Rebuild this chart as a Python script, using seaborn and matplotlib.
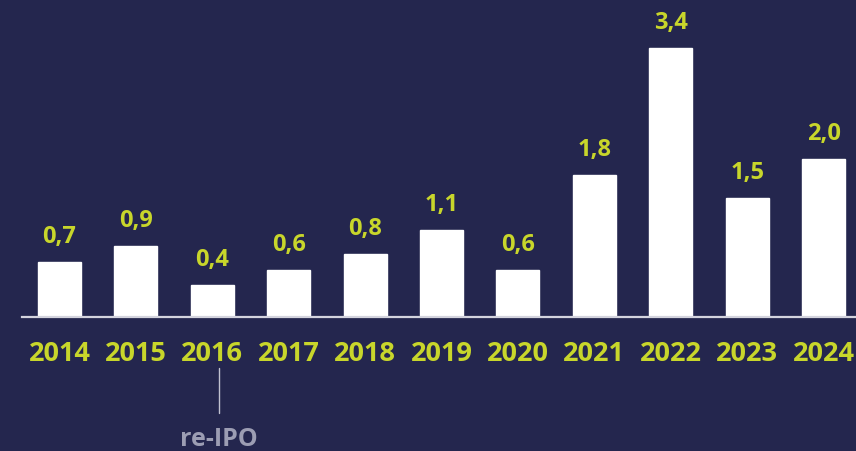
import matplotlib
matplotlib.use("Agg")
import matplotlib.pyplot as plt
import seaborn as sns
import pandas as pd

# data
years = ['2014', '2015', '2016', '2017', '2018', '2019', '2020', '2021', '2022', '2023', '2024']
values = [0.7, 0.9, 0.4, 0.6, 0.8, 1.1, 0.6, 1.8, 3.4, 1.5, 2.0]
labels = ['0,7', '0,9', '0,4', '0,6', '0,8', '1,1', '0,6', '1,8', '3,4', '1,5', '2,0']
note_year = '2016'
note_text = 're-IPO'

bg = '#24264e'
lime = '#c8d62b'
grey = '#9c9db3'

sns.set_theme(style='white')
plt.rcParams['font.family'] = ['Open Sans', 'DejaVu Sans']

df = pd.DataFrame({'year': years, 'value': values})

fig = plt.figure(figsize=(8.56, 4.51), dpi=100, facecolor=bg)
ax = fig.add_axes([22 / 856, 134 / 451, 834 / 856, 317 / 451])
ax.set_facecolor(bg)

sns.barplot(data=df, x='year', y='value', color='white', width=0.563,
            saturation=1, ax=ax)

for i, (v, lab) in enumerate(zip(values, labels)):
    ax.text(i, v + 0.24, lab, ha='center', va='baseline', color=lime,
            fontsize=17, fontweight='bold')

ax.set_xlim(-0.49, 10.425)
ax.set_ylim(0, 4.01)

for s in ['top', 'right', 'left']:
    ax.spines[s].set_visible(False)
ax.spines['bottom'].set_color('#d4d4de')
ax.spines['bottom'].set_linewidth(1.6)

ax.set_yticks([])
ax.set_xlabel('')
ax.set_ylabel('')
ax.tick_params(axis='x', length=0, pad=17.5, labelsize=19.5, labelcolor=lime)
for t in ax.get_xticklabels():
    t.set_fontweight('bold')

xi = years.index(note_year) + 0.088
ax.plot([xi, xi], [-0.65, -1.22], color='#c0c1d0', lw=1, clip_on=False)
ax.text(xi, -1.545, note_text, ha='center', va='center', color=grey,
        fontsize=18, fontweight='bold', clip_on=False)

fig.savefig('out.png', dpi=100, facecolor=bg)
